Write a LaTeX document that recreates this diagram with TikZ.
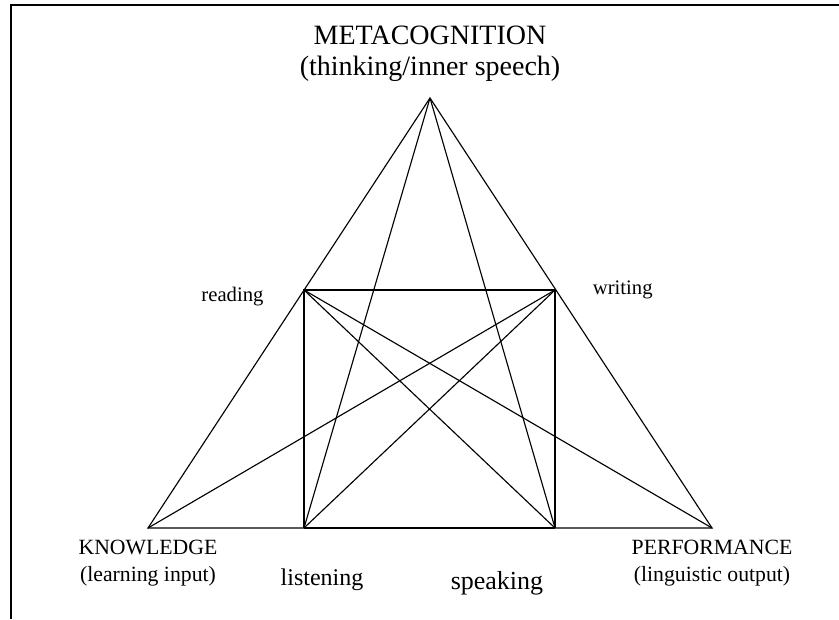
\documentclass[tikz,border=0pt]{standalone}
\usepackage{fontspec}
\setmainfont{Liberation Serif}
\usetikzlibrary{positioning}

\begin{document}
\begin{tikzpicture}[x=0.75pt, y=-0.75pt, line width=0.85pt,
  corner/.style={font=\fontsize{16.3}{20}\selectfont, align=center, inner sep=0pt},
  skill/.style={font=\fontsize{15.5}{18}\selectfont, inner sep=0pt}]
\useasboundingbox (0,0) rectangle (839,619);
% frame
\draw[line width=1.6pt] (11,619) -- (11,5) -- (839,5);
% corners of the triangle and the square
\coordinate (M) at (430,98);
\coordinate (K) at (148,528);
\coordinate (P) at (712,528);
\coordinate (R) at (304,290);
\coordinate (W) at (555,290);
\coordinate (L) at (304,528);
\coordinate (S) at (555,528);
\draw (K) -- (M) -- (P) -- cycle;
\draw (L) -- (R) -- (W) -- (S);
\draw[line width=1.5pt] (L) -- (S);
\foreach \a/\b in {M/L, M/S, R/S, W/L, R/P, W/K}
  \draw (\a) -- (\b);
% labels
\node[corner, font=\fontsize{21}{23}\selectfont, above=12pt of M] (meta)
  {METACOGNITION\\(thinking/inner speech)};
\node[corner, below=9pt of K] (know) {KNOWLEDGE\\(learning input)};
\node[corner, below=9pt of P] (perf) {PERFORMANCE\\(linguistic output)};
\node[skill, left=30pt of R, yshift=-5pt] (read) {reading};
\node[skill, right=28pt of W] (writ) {writing};
\node[skill, font=\fontsize{18}{21}\selectfont] (list) at (322,580) {listening};
\node[skill, font=\fontsize{19.5}{23}\selectfont] (spea) at (497,583) {speaking};
\end{tikzpicture}
\end{document}
